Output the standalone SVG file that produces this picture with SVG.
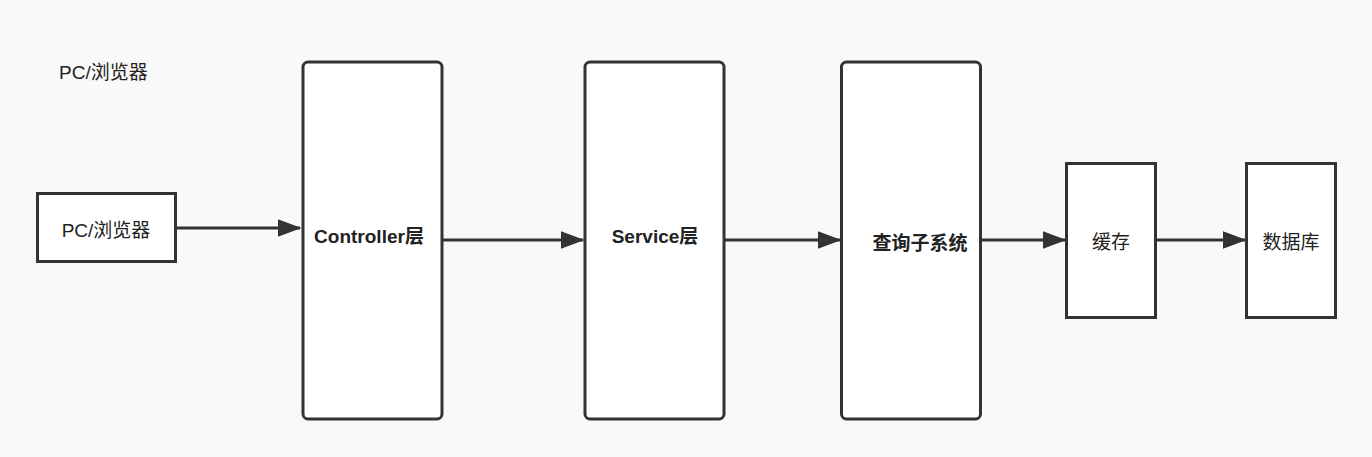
<svg xmlns="http://www.w3.org/2000/svg" width="1372" height="457" viewBox="0 0 1372 457">
<style>
.box{fill:#fff;stroke:#333;stroke-width:3}
.t{font-family:"PingFang SC","Liberation Sans","Noto Sans CJK SC",sans-serif;font-size:19px;fill:#222;text-anchor:middle;dominant-baseline:central}
.b{font-weight:bold}
.c{stroke:#333;stroke-width:3;fill:none}
</style>
<defs>
<marker id="ah" markerWidth="8" markerHeight="6" refX="7.5" refY="3" orient="auto" markerUnits="strokeWidth">
<path d="M0,0 L8,3 L0,6 Z" fill="#333"/>
</marker>
</defs>
<rect width="1372" height="457" fill="#f9f9f9"/>
<text class="t" x="59" y="72" style="text-anchor:start">PC/浏览器</text>
<g id="pc"><rect class="box" x="37.5" y="193.5" width="138" height="68"/><text class="t" x="106" y="230">PC/浏览器</text></g>
<g id="controller"><rect class="box" x="303" y="62" width="139" height="357" rx="5"/><text class="t b" x="369" y="236">Controller层</text></g>
<g id="service"><rect class="box" x="585" y="62" width="139" height="357" rx="5"/><text class="t b" x="655" y="236">Service层</text></g>
<g id="query"><rect class="box" x="841.5" y="62" width="139" height="357" rx="5"/><text class="t b" x="920" y="243">查询子系统</text></g>
<g id="cache"><rect class="box" x="1066.5" y="163.5" width="89" height="154"/><text class="t" x="1111" y="242">缓存</text></g>
<g id="db"><rect class="box" x="1246.5" y="163.5" width="89" height="154"/><text class="t" x="1291" y="242">数据库</text></g>
<g id="connectors">
<line class="c" x1="176" y1="228" x2="300" y2="228" marker-end="url(#ah)"/>
<line class="c" x1="443" y1="240" x2="583" y2="240" marker-end="url(#ah)"/>
<line class="c" x1="725" y1="240" x2="840" y2="240" marker-end="url(#ah)"/>
<line class="c" x1="982" y1="240" x2="1065" y2="240" marker-end="url(#ah)"/>
<line class="c" x1="1156" y1="240" x2="1245" y2="240" marker-end="url(#ah)"/>
</g>
</svg>
